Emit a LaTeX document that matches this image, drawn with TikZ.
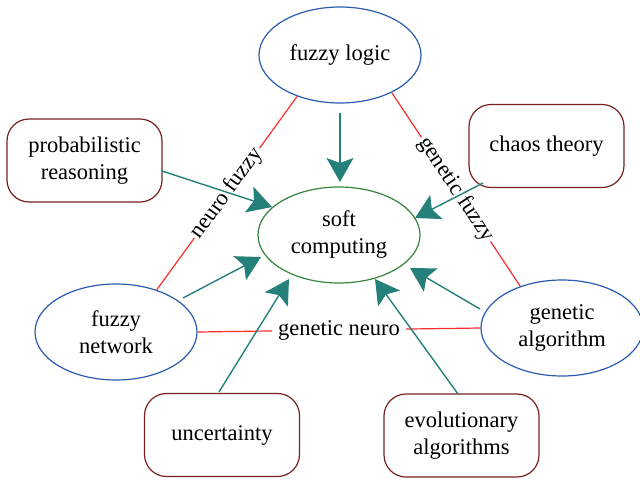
\documentclass[tikz,border=0pt]{standalone}
\usepackage{fontspec}
\setmainfont{Liberation Serif}
\usetikzlibrary{shapes.geometric,arrows.meta}

\definecolor{ellblue}{RGB}{42,92,176}
\definecolor{ellgreen}{RGB}{52,132,62}
\definecolor{boxred}{RGB}{122,32,32}
\definecolor{linkred}{RGB}{250,45,45}
\definecolor{arrowteal}{RGB}{38,128,122}

\tikzset{
  feedtip/.tip={Stealth[length=24pt,width=27pt,inset=5pt]},
}

\begin{document}
\begin{tikzpicture}[x=1pt,y=-1pt,
  every node/.style={font=\fontsize{22.5}{27}\selectfont, align=center},
  oval/.style={ellipse, draw=ellblue, line width=1.2pt,
    minimum width=162pt, minimum height=96pt, inner sep=0pt},
  core/.style={oval, draw=ellgreen},
  topic/.style={rectangle, rounded corners=22pt, draw=boxred, line width=1.2pt,
    minimum width=155pt, minimum height=83pt, inner sep=0pt},
  link/.style={draw=linkred, line width=1.2pt},
  linklabel/.style={fill=white, inner xsep=2pt, inner ysep=0pt, sloped},
  feed/.style={draw=arrowteal, fill=arrowteal, line width=1.4pt, -feedtip}
]
\useasboundingbox (0,0) rectangle (640,480);

% methods (ellipses) and the central concept
\node[oval] (fl) at (340,55)  {fuzzy logic};
\node[core] (sc) at (339,235) {soft\\computing};
\node[oval] (fn) at (116,332) {fuzzy\\network};
\node[oval] (ga) at (562,328) {genetic\\algorithm};

% related topics (rounded boxes)
\node[topic] (pr) at (84.5,160.5) {probabilistic\\reasoning};
\node[topic] (ct) at (546.5,146)  {chaos theory};
\node[topic] (un) at (222,435)    {uncertainty};
\node[topic] (ev) at (461.5,435.5) {evolutionary\\algorithms};

% hybrid links between the methods
\draw[link] (fn.46) -- node[linklabel] {neuro fuzzy} (fl.224);
\draw[link] (fl.-36) -- node[linklabel] {genetic fuzzy} (ga.135);
\draw[link] (fn.east) -- node[fill=white, inner xsep=6pt, inner ysep=0pt] {genetic neuro} (ga.west);

% contributions to soft computing
\draw[feed] ([shift={(0,58)}]fl.center)      -- ([shift={(1,-53)}]sc.center);
\draw[feed] ([shift={(77.5,10.5)}]pr.center) -- ([shift={(-67,-28)}]sc.center);
\draw[feed] ([shift={(-63.5,37)}]ct.center)  -- ([shift={(76,-17)}]sc.center);
\draw[feed] ([shift={(67,-34)}]fn.center)    -- ([shift={(-78,22)}]sc.center);
\draw[feed] ([shift={(-82,-19)}]ga.center)   -- ([shift={(71,33)}]sc.center);
\draw[feed] ([shift={(-3,-43)}]un.center)    -- ([shift={(-50,44)}]sc.center);
\draw[feed] ([shift={(-3.5,-41.5)}]ev.center) -- ([shift={(36,44)}]sc.center);
\end{tikzpicture}
\end{document}
